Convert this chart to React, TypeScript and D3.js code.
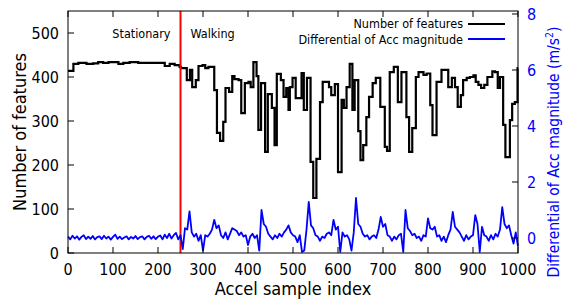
import React from 'react';
import * as d3 from 'd3';

// number of features: step starts (sample index) and values
const featIdx = [0, 12, 23, 41, 56, 67, 78, 90, 112, 123, 137, 156, 215, 226, 237, 248, 251, 264, 271, 276, 284, 290, 299, 305, 312, 325, 331, 338, 345, 350, 358, 365, 370, 379, 385, 393, 401, 406, 412, 419, 423, 429, 438, 444, 453, 459, 464, 473, 479, 485, 490, 493, 499, 506, 519, 524, 531, 539, 545, 552, 560, 566, 580, 585, 593, 600, 608, 613, 619, 626, 632, 637, 645, 650, 656, 663, 669, 677, 684, 694, 704, 709, 715, 724, 733, 741, 752, 758, 765, 773, 779, 790, 797, 805, 810, 819, 830, 845, 853, 860, 866, 873, 878, 886, 893, 901, 906, 912, 918, 925, 932, 943, 949, 955, 960, 967, 972, 982, 987, 993, 999, 1000];
const featVal = [414, 430, 432, 430, 431, 434, 432, 434, 430, 432, 434, 432, 425, 430, 427, 423, 420, 393, 416, 377, 393, 425, 427, 420, 423, 370, 273, 255, 298, 375, 366, 402, 395, 393, 318, 386, 389, 377, 434, 402, 280, 386, 230, 361, 330, 245, 407, 393, 355, 375, 325, 377, 398, 352, 409, 325, 398, 207, 125, 214, 343, 389, 377, 359, 384, 184, 348, 330, 377, 430, 325, 393, 277, 211, 245, 309, 355, 386, 398, 332, 241, 232, 411, 423, 343, 411, 309, 230, 284, 400, 411, 405, 408, 336, 268, 389, 416, 377, 398, 377, 332, 359, 393, 398, 400, 404, 389, 382, 375, 382, 400, 413, 411, 375, 400, 291, 218, 302, 339, 343, 420, 420];

// differential of acc magnitude, one value every 5 samples (0..1000)
const diffStep = 5;
const diffVal = [
  0.05, -0.05, 0.08, -0.02, 0.06, -0.06, 0.04, 0.1, -0.04, 0.05,
  -0.03, 0.07, -0.05, 0.03, 0.06, -0.04, 0.08, -0.02, 0.05, -0.06,
  0.04, 0.12, -0.03, 0.05, -0.04, 0.02, 0.06, -0.05, 0.04, -0.02,
  0.07, -0.04, 0.03, 0.06, -0.05, 0.04, 0.08, -0.03, 0.06, -0.04,
  0.05, 0.09, -0.05, 0.12, 0.0, 0.15, -0.02, 0.1, 0.18, -0.05,
  0.1, -0.4, 0.35, 0.3, 0.95, 0.2, 0.05, 0.15, -0.1, 0.1,
  -0.45, 0.1, 0.05, 0.15, 0.3, 0.65, 0.35, 0.45, 0.1, 0.0,
  0.2, -0.05, 0.15, 0.35, 0.3, 0.25, 0.1, 0.2, 0.05, 0.1,
  -0.25, 0.05, 0.15, 0.0, 0.1, -0.45, 1.0, 0.5, 0.4, 0.15,
  0.05, -0.05, 0.1, 0.0, 0.15, 0.05, 0.2, 0.3, 0.45, 0.2,
  0.1, 0.05, -0.15, 0.1, -0.5, -0.45, 0.3, 1.29, 0.45, 0.35,
  0.1, 0.05, -0.1, 0.05, 0.0, 0.15, 0.2, 0.1, 0.65, 0.3,
  0.4, -0.5, 0.2, 0.05, 0.1, -0.05, -0.45, 0.2, 1.43, 0.5,
  0.4, 0.15, 0.05, 0.1, -0.05, 0.05, 0.1, 0.0, 0.3, 0.75,
  0.4, 0.5, 0.1, 0.05, -0.1, 0.05, -0.05, 0.1, 0.15, -0.5,
  1.0, 0.35, 0.25, 0.1, 0.15, 0.0, 0.05, -0.1, 0.1, 0.05,
  0.7, 0.35, 0.3, 0.4, 0.05, 0.1, -0.1, 0.05, -0.15, 0.1,
  0.3, 0.93, 0.4, 0.3, 0.2, 0.05, -0.1, 0.1, -0.05, 0.05,
  0.1, 0.82, 0.5, -0.5, 0.4, 0.1, 0.05, -0.1, 0.1, -0.05,
  0.15, 0.05, 0.3, 1.1, 0.5, 0.35, 0.45, 0.1, -0.2, 0.2,
  -0.3,
];

const xTicks = [0, 100, 200, 300, 400, 500, 600, 700, 800, 900, 1000];
const yTicks = [0, 100, 200, 300, 400, 500];
const y2Ticks = [0, 2, 4, 6, 8];
const phaseSplit = 250;
const phaseLabels = ['Stationary', 'Walking'];
const seriesNames = ['Number of features', 'Differential of Acc magnitude'];

const FONT = "'DejaVu Sans Condensed', 'DejaVu Sans', sans-serif";

export default function App() {
  const left = 68, right = 518, top = 11, bottom = 253;

  const x = d3.scaleLinear().domain([0, 1000]).range([left, right]);
  const y = d3.scaleLinear().domain([0, 550]).range([bottom, top]);
  const y2 = d3.scaleLinear().domain([-0.536, 8.107]).range([bottom, top]);

  const featLine = d3.line<number>()
    .x((_, i) => x(featIdx[i]))
    .y(d => y(d))
    .curve(d3.curveStepAfter);

  const diffLine = d3.line<number>()
    .x((_, i) => x(i * diffStep))
    .y(d => y2(d));

  const tick = 6;

  return (
    <svg width={564} height={302} style={{ position: 'absolute', left: 0, top: 0, background: '#fff' }}
      fontFamily={FONT}>
      {/* series */}
      <path d={featLine(featVal) || ''} fill="none" stroke="#000" strokeWidth={2.2} />
      <line x1={x(phaseSplit)} x2={x(phaseSplit)} y1={top} y2={bottom} stroke="#ff0000" strokeWidth={2} />
      <path d={diffLine(diffVal) || ''} fill="none" stroke="#0000ff" strokeWidth={1.8} strokeLinejoin="round" />

      {/* frame */}
      <rect x={left} y={top} width={right - left} height={bottom - top} fill="none" stroke="#000" strokeWidth={1} />

      {/* x ticks */}
      {xTicks.map(t => (
        <g key={'x' + t}>
          <line x1={x(t)} x2={x(t)} y1={bottom} y2={bottom - tick} stroke="#000" />
          <line x1={x(t)} x2={x(t)} y1={top} y2={top + tick} stroke="#000" />
          <text x={x(t)} y={275} textAnchor="middle" fontSize={16}>{t}</text>
        </g>
      ))}
      {/* left y ticks */}
      {yTicks.map(t => (
        <g key={'y' + t}>
          <line x1={left} x2={left + tick} y1={y(t)} y2={y(t)} stroke="#000" />
          <text x={59} y={y(t) + 6} textAnchor="end" fontSize={16}>{t}</text>
        </g>
      ))}
      {/* right y ticks */}
      {y2Ticks.map(t => (
        <g key={'y2' + t}>
          <line x1={right} x2={right - tick} y1={y2(t)} y2={y2(t)} stroke="#000" />
          <text x={527} y={y2(t) + 6} textAnchor="start" fontSize={16} fill="#0000ff">{t}</text>
        </g>
      ))}

      {/* axis titles */}
      <text x={293} y={295} textAnchor="middle" fontSize={18}>Accel sample index</text>
      <text transform={`translate(26,${(top + bottom) / 2}) rotate(-90)`} textAnchor="middle" fontSize={18}>
        {'Number of features'}
      </text>
      <text transform={`translate(559,152) rotate(-90)`} textAnchor="middle" fontSize={15.5} fill="#0000ff">
        Differential of Acc magnitude (m/s<tspan dy={-6} fontSize={10.5}>2</tspan><tspan dy={6}>)</tspan>
      </text>

      {/* phase labels */}
      <text x={x(phaseSplit) - 10} y={38} textAnchor="end" fontSize={12.5}>{phaseLabels[0]}</text>
      <text x={x(phaseSplit) + 10} y={38} textAnchor="start" fontSize={12.5}>{phaseLabels[1]}</text>

      {/* legend */}
      <text x={463} y={28} textAnchor="end" fontSize={12.5}>{seriesNames[0]}</text>
      <line x1={468} x2={505} y1={24} y2={24} stroke="#000" strokeWidth={2} />
      <text x={463} y={44} textAnchor="end" fontSize={12.5}>{seriesNames[1]}</text>
      <line x1={468} x2={505} y1={39} y2={39} stroke="#0000ff" strokeWidth={2} />
    </svg>
  );
}
